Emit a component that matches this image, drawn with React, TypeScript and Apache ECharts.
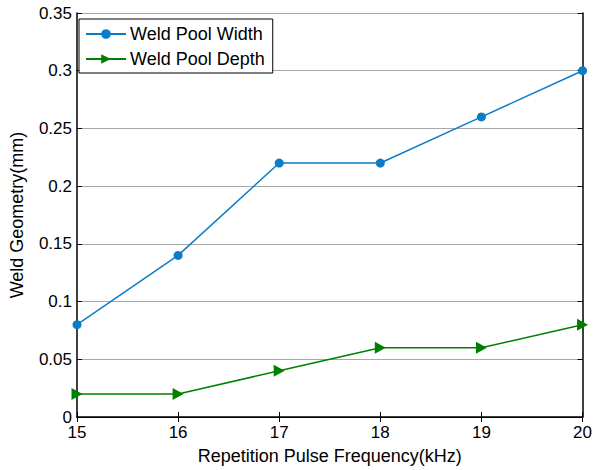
import React, { useEffect, useRef } from "react";
import * as echarts from "echarts";

const frequencies = [15, 16, 17, 18, 19, 20];
const poolWidth = [0.08, 0.14, 0.22, 0.22, 0.26, 0.3];
const poolDepth = [0.02, 0.02, 0.04, 0.06, 0.06, 0.08];

const FONT = "'Liberation Sans', Arial, Helvetica, sans-serif";

export default function App() {
  const ref = useRef<HTMLDivElement>(null);

  useEffect(() => {
    if (!ref.current) return;
    const chart = echarts.init(ref.current, null, { renderer: "svg" });
    const tickStyle = { show: true, inside: true, length: 5, lineStyle: { color: "#000", width: 1 } };
    chart.setOption({
      animation: false,
      backgroundColor: "#fff",
      textStyle: { fontFamily: FONT },
      grid: { left: 73, right: 8, top: 13, bottom: 51, containLabel: false },
      legend: {
        orient: "vertical",
        left: 79,
        top: 19,
        padding: [6, 8, 5, 6],
        itemGap: 7,
        itemWidth: 40,
        itemHeight: 12,
        borderColor: "#000",
        borderWidth: 1,
        backgroundColor: "#fff",
        textStyle: { fontFamily: FONT, fontSize: 18, color: "#000", padding: [0, 0, 0, -1] },
        data: ["Weld Pool Width", "Weld Pool Depth"],
      },
      xAxis: [
        {
          type: "value",
          min: 15,
          max: 20,
          interval: 1,
          name: "Repetition Pulse Frequency(kHz)",
          nameLocation: "middle",
          nameGap: 30,
          nameTextStyle: { fontFamily: FONT, fontSize: 18, color: "#000" },
          axisLine: { lineStyle: { color: "#000", width: 1.5 } },
          axisTick: tickStyle,
          axisLabel: { fontFamily: FONT, fontSize: 17, color: "#000", margin: 7 },
          splitLine: { show: false },
        },
        {
          type: "value",
          position: "top",
          min: 15,
          max: 20,
          interval: 1,
          axisLine: { show: true, lineStyle: { color: "#000", width: 1 } },
          axisTick: tickStyle,
          axisLabel: { show: false },
          splitLine: { show: false },
        },
      ],
      yAxis: [
        {
          type: "value",
          min: 0,
          max: 0.35,
          interval: 0.05,
          name: "Weld Geometry(mm)",
          nameLocation: "middle",
          nameGap: 51,
          nameTextStyle: { fontFamily: FONT, fontSize: 18, color: "#000" },
          axisLine: { show: true, lineStyle: { color: "#000", width: 1.5 } },
          axisTick: tickStyle,
          axisLabel: { fontFamily: FONT, fontSize: 17, color: "#000", margin: 5 },
          splitLine: { show: true, lineStyle: { color: "#a8a8a8", width: 1 } },
        },
        {
          type: "value",
          position: "right",
          min: 0,
          max: 0.35,
          interval: 0.05,
          axisLine: { show: true, lineStyle: { color: "#000", width: 1.5 } },
          axisTick: tickStyle,
          axisLabel: { show: false },
          splitLine: { show: false },
        },
      ],
      series: [
        {
          name: "Weld Pool Width",
          type: "line",
          data: frequencies.map((f, i) => [f, poolWidth[i]]),
          symbol: "circle",
          symbolSize: 9,
          color: "#0b7dc8",
          lineStyle: { width: 1.5, color: "#0b7dc8" },
          itemStyle: { color: "#0b7dc8" },
          z: 5,
        },
        {
          name: "Weld Pool Depth",
          type: "line",
          data: frequencies.map((f, i) => [f, poolDepth[i]]),
          symbol: "triangle",
          symbolSize: [12, 11],
          symbolRotate: -90,
          color: "#008000",
          lineStyle: { width: 1.5, color: "#008000" },
          itemStyle: { color: "#008000" },
          z: 5,
        },
      ],
    });
    return () => chart.dispose();
  }, []);

  return <div ref={ref} style={{ position: "fixed", left: 0, top: 0, width: 595, height: 470 }} />;
}
